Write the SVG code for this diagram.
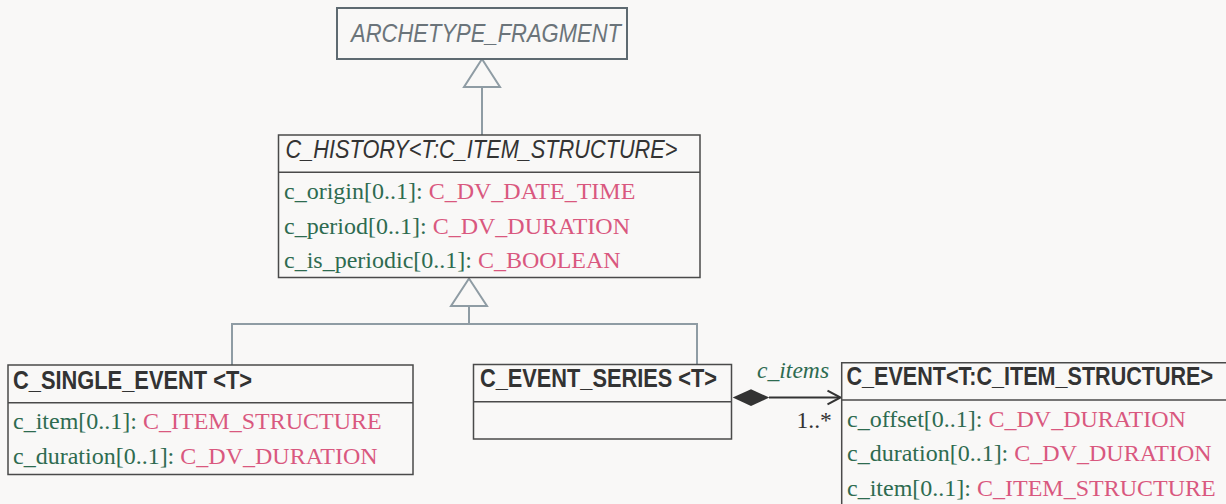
<svg xmlns="http://www.w3.org/2000/svg" width="1226" height="504" viewBox="0 0 1226 504">
<style>
.bg{fill:#f9f8f7}
.box{fill:#f9f8f7;stroke:#4a4a4a;stroke-width:1.5}
.edge{fill:none;stroke:#4a4a4a;stroke-width:1.5}
.abox{fill:#f9f8f7;stroke:#5e6a71;stroke-width:2}
.sep{stroke:#4a4a4a;stroke-width:1.5}
.gen{fill:none;stroke:#8f9ca4;stroke-width:2}
.tri{fill:#f9f8f7;stroke:#8f9ca4;stroke-width:2}
.comp{fill:none;stroke:#333;stroke-width:2}
.hd{font-family:"Liberation Sans Narrow","Liberation Sans",Arial,sans-serif;font-size:25.5px;fill:#333}
.it{font-style:italic}
.bd{font-weight:bold}
.ah{fill:#6b747a}
.at{font-family:"Liberation Serif","Times New Roman",serif;font-size:24px;fill:#2e6b50}
.ty{fill:#d9587f}
.lbl{font-family:"Liberation Serif","Times New Roman",serif;font-size:23.6px}
</style>
<rect class="bg" x="0" y="0" width="1226" height="504"/>
<g id="connectors">
<polyline class="gen" points="482,87 482,135"/>
<polygon class="tri" points="482,59 464,87 500,87"/>
<polyline class="gen" points="469,306 469,324"/>
<polyline class="gen" points="232,365 232,324 697,324 697,364"/>
<polygon class="tri" points="469,278.5 451,306 487,306"/>
<line class="comp" x1="769" y1="397.5" x2="840" y2="397.5"/>
<polyline class="comp" points="827.5,390.7 840.5,397.5 827.5,404.3"/>
<polygon fill="#333" points="732.7,397.6 751,389.3 769.3,397.6 751,406"/>
<text class="lbl it" x="757" y="378.3" fill="#2e6b50">c_items</text>
<text class="lbl" x="796.5" y="428.3" fill="#333">1..*</text>
</g>
<g id="ARCHETYPE_FRAGMENT">
<rect class="abox" x="337" y="8" width="290" height="51"/>
<text class="hd it ah" x="351" y="41.5" textLength="270" lengthAdjust="spacingAndGlyphs">ARCHETYPE_FRAGMENT</text>
</g>
<g id="C_HISTORY">
<rect class="box" x="278.5" y="135" width="421.5" height="142.5"/>
<line class="sep" x1="278.5" y1="172.3" x2="700" y2="172.3"/>
<text class="hd it" x="285.5" y="157.5" textLength="392" lengthAdjust="spacingAndGlyphs">C_HISTORY&lt;T:C_ITEM_STRUCTURE&gt;</text>
<text class="at" x="284" y="199">c_origin[0..1]: <tspan class="ty">C_DV_DATE_TIME</tspan></text>
<text class="at" x="284" y="233.5">c_period[0..1]: <tspan class="ty">C_DV_DURATION</tspan></text>
<text class="at" x="284" y="268">c_is_periodic[0..1]: <tspan class="ty">C_BOOLEAN</tspan></text>
</g>
<g id="C_SINGLE_EVENT">
<rect class="box" x="8" y="365" width="405" height="109.5"/>
<line class="sep" x1="8" y1="402.7" x2="413" y2="402.7"/>
<text class="hd bd" x="13" y="388.5" textLength="239" lengthAdjust="spacingAndGlyphs">C_SINGLE_EVENT &lt;T&gt;</text>
<text class="at" x="13" y="428.5">c_item[0..1]: <tspan class="ty">C_ITEM_STRUCTURE</tspan></text>
<text class="at" x="13" y="463.5">c_duration[0..1]: <tspan class="ty">C_DV_DURATION</tspan></text>
</g>
<g id="C_EVENT_SERIES">
<rect class="box" x="473.5" y="364.5" width="258" height="74.5"/>
<line class="sep" x1="473.5" y1="401.7" x2="731.5" y2="401.7"/>
<text class="hd bd" x="480" y="387" textLength="237" lengthAdjust="spacingAndGlyphs">C_EVENT_SERIES &lt;T&gt;</text>
</g>
<g id="C_EVENT">
<rect class="bg" x="841.7" y="362.7" width="384.3" height="141.3"/>
<path class="edge" d="M1226,362.7 H841.7 V504"/>
<line class="sep" x1="841.7" y1="400" x2="1226" y2="400"/>
<text class="hd bd" x="0" y="0" transform="matrix(0.8456,0,0,1,846.5,385)">C_EVENT&lt;T:C_ITEM_STRUCTURE&gt;</text>
<text class="at" x="847" y="426.5">c_offset[0..1]: <tspan class="ty">C_DV_DURATION</tspan></text>
<text class="at" x="847" y="461">c_duration[0..1]: <tspan class="ty">C_DV_DURATION</tspan></text>
<text class="at" x="847" y="496">c_item[0..1]: <tspan class="ty">C_ITEM_STRUCTURE</tspan></text>
</g>
</svg>
